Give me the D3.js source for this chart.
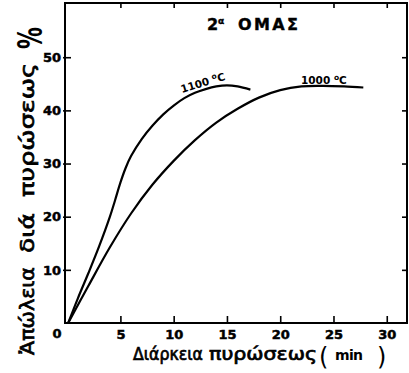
<!DOCTYPE html>
<html><head><meta charset="utf-8">
<script src="https://cdn.jsdelivr.net/npm/d3@7"></script>
<style>body{margin:0;background:#fff}svg{display:block}</style>
</head><body>
<script>
// ---- data ----
const t1100 = [0.1, 1, 2, 3, 4, 4.5, 5, 5.5, 6, 7, 8, 9, 10, 11, 12, 13, 14, 15, 16, 17.2];
const v1100 = [0, 4.6, 9.4, 14.4, 19.9, 23.1, 26.4, 29.2, 31.4, 34.6, 37.1, 39.2, 40.9, 42.3, 43.3, 44.0, 44.5, 44.7, 44.5, 43.9];
const t1000 = [0.1, 2, 4, 6, 8, 10, 12, 14, 16, 18, 20, 22, 24, 26, 27.8];
const v1000 = [0, 7.0, 14.2, 20.6, 26.0, 30.5, 34.4, 37.7, 40.3, 42.4, 43.8, 44.5, 44.6, 44.5, 44.3];
const temps = [1100, 1000];
const xTicks = [5, 10, 15, 20, 25, 30];
const yTicks = [10, 20, 30, 40, 50];
const titleNum = "2", titleSup = "α", titleWord = "ΟΜΑΣ";
const yTitleWords = ["Ἀπώλεια", "διά", "πυρώσεως"];
const xTitleWords = ["Διάρκεια", "πυρώσεως"];
const unitText = "min";

const W = 409, H = 373;
const svg = d3.select("body").append("svg").attr("width", W).attr("height", H);
const x = d3.scaleLinear().domain([-0.2, 31.9]).range([65, 407]);
const y = d3.scaleLinear().domain([0, 60.2]).range([323, 3]);
const FONT = "DejaVu Sans";

// frame
svg.append("rect").attr("x", x.range()[0]).attr("y", y.range()[1])
  .attr("width", x.range()[1] - x.range()[0]).attr("height", y.range()[0] - y.range()[1])
  .attr("fill", "none").attr("stroke", "#000").attr("stroke-width", 2);

function styleAxis(g, size) {
  g.select(".domain").remove();
  g.attr("font-family", FONT).attr("font-size", size).attr("font-weight", "bold");
  g.selectAll("line").attr("stroke", "#000").attr("stroke-width", 1.6);
  g.selectAll("text").attr("fill", "#000").attr("stroke", "#000").attr("stroke-width", 0.5);
}
svg.append("g").attr("transform", `translate(0,${y(0)})`)
  .call(d3.axisBottom(x).tickValues(xTicks).tickSize(-7).tickPadding(7))
  .call(g => styleAxis(g, 13));
svg.append("g").attr("transform", `translate(0,${y.range()[1]})`)
  .call(d3.axisTop(x).tickValues(xTicks).tickSize(-5).tickFormat(""))
  .call(g => styleAxis(g, 13));
svg.append("g").attr("transform", `translate(${x.range()[0] - 2},0)`)
  .call(d3.axisLeft(y).tickValues(yTicks).tickSize(-8).tickPadding(2))
  .call(g => styleAxis(g, 13));
svg.append("g").attr("transform", `translate(${x.range()[1]},0)`)
  .call(d3.axisRight(y).tickValues(yTicks).tickSize(-5).tickFormat(""))
  .call(g => styleAxis(g, 13));
// corner zero
svg.append("text").attr("x", 57).attr("y", 338).attr("text-anchor", "middle")
  .attr("font-family", FONT).attr("font-weight", "bold").attr("font-size", 13)
  .attr("stroke", "#000").attr("stroke-width", 0.5).text("0");

// curves
const line = d3.line().x(d => x(d[0])).y(d => y(d[1])).curve(d3.curveCatmullRom.alpha(0.5));
[[t1100, v1100], [t1000, v1000]].forEach(([t, v]) => {
  svg.append("path").datum(t.map((tt, i) => [tt, v[i]]))
    .attr("d", line).attr("fill", "none").attr("stroke", "#000").attr("stroke-width", 2.2);
});

// curve labels
function tempLabel(sel, temp) {
  sel.attr("font-family", FONT).attr("font-weight", "bold").attr("font-size", 10.5);
  sel.append("tspan").text(temp + " ");
  sel.append("tspan").attr("font-size", 7.5).attr("dy", -4).text("o");
  sel.append("tspan").attr("dy", 4).text("C");
}
svg.append("text").attr("transform", "translate(182,93) rotate(-17)").call(tempLabel, temps[0]);
svg.append("text").attr("x", 301).attr("y", 83.5).call(tempLabel, temps[1]);

// title
const tg = svg.append("g").attr("font-family", FONT).attr("font-weight", "bold")
  .attr("stroke", "#000").attr("stroke-width", 0.4);
tg.append("text").attr("x", 207).attr("y", 29.5).attr("font-size", 16).text(titleNum);
tg.append("text").attr("x", 218).attr("y", 23.5).attr("font-size", 9).text(titleSup);
tg.append("text").attr("x", 238).attr("y", 29.5).attr("font-size", 16)
  .attr("textLength", 60).attr("lengthAdjust", "spacing").text(titleWord);

// x axis title
const xg = svg.append("g").attr("font-family", FONT).attr("fill", "#000");
const xw = [[133, 70], [209, 108]];
xTitleWords.forEach((w, i) => {
  xg.append("text").attr("x", xw[i][0]).attr("y", 360).attr("font-size", 17)
    .attr("stroke", "#000").attr("stroke-width", 0.7)
    .attr("textLength", xw[i][1]).attr("lengthAdjust", "spacingAndGlyphs").text(w);
});
xg.append("text").attr("x", 319).attr("y", 365).attr("font-size", 24).text("(");
xg.append("text").attr("x", 335).attr("y", 360).attr("font-size", 14).attr("font-weight", "bold")
  .attr("textLength", 28).text(unitText);
xg.append("text").attr("x", 377).attr("y", 365).attr("font-size", 24).text(")");

// y axis title (rotated)
const yw = [[355, 88], [253, 40], [197, 134]];
yTitleWords.forEach((w, i) => {
  svg.append("text").attr("transform", `translate(34,${yw[i][0]}) rotate(-90)`)
    .attr("font-family", FONT).attr("font-size", 19)
    .attr("stroke", "#000").attr("stroke-width", 0.7)
    .attr("textLength", yw[i][1]).attr("lengthAdjust", "spacingAndGlyphs").text(w);
});
svg.append("text").attr("transform", "translate(42,49) rotate(-90) scale(1,1.5)")
  .attr("font-family", FONT).attr("font-size", 22).attr("font-weight", "bold").text("%");
</script>
</body></html>
